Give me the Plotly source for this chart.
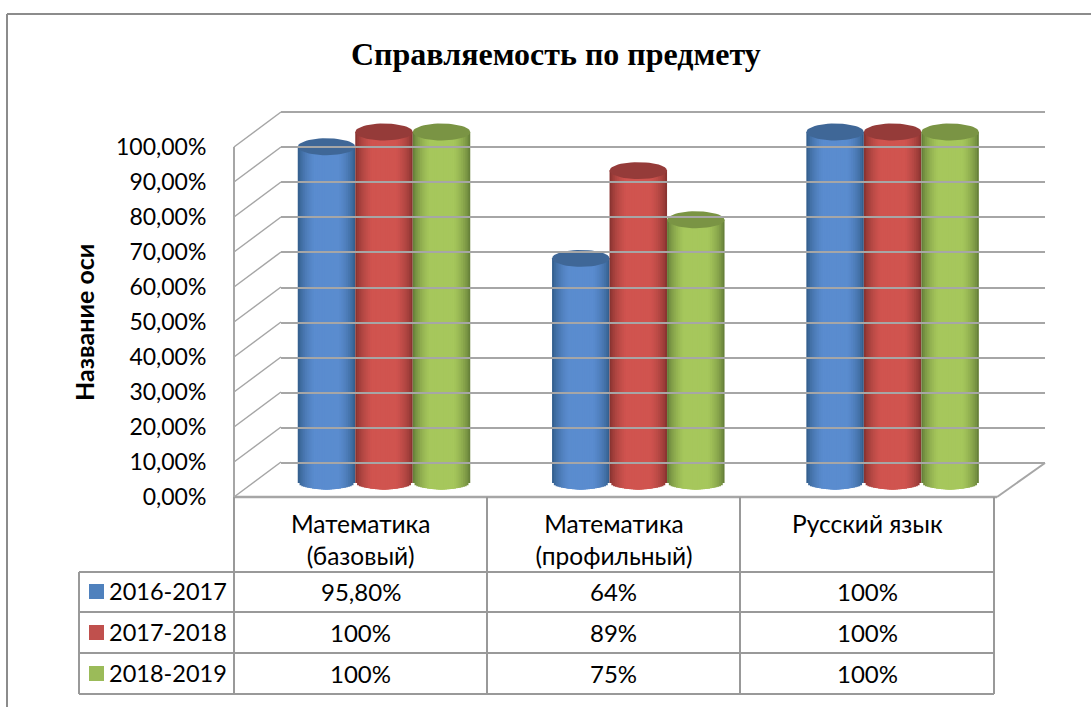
import math
import plotly.graph_objects as go

categories = ["Математика (базовый)", "Математика (профильный)", "Русский язык"]
category_ticks = ["Математика<br>(базовый)", "Математика<br>(профильный)", "Русский язык<br> "]
series_names = ["2016-2017", "2017-2018", "2018-2019"]
values_2016 = [95.8, 64, 100]
values_2017 = [100, 89, 100]
values_2018 = [100, 75, 100]
labels_2016 = ["95,80%", "64%", "100%"]
labels_2017 = ["100%", "89%", "100%"]
labels_2018 = ["100%", "75%", "100%"]
y_ticks = [0, 10, 20, 30, 40, 50, 60, 70, 80, 90, 100]
y_tick_labels = ["0,00%", "10,00%", "20,00%", "30,00%", "40,00%", "50,00%", "60,00%", "70,00%", "80,00%", "90,00%", "100,00%"]
title_text = "Справляемость по предмету"
axis_title = "Название оси"

W, H = 1091, 707
SANS = "Lato, Carlito, sans-serif"
GRAY = "#a6a6a6"
series = [values_2016, values_2017, values_2018]
table = [labels_2016, labels_2017, labels_2018]
# body colour, edge colour, cap colour
palette = [("#5a8ccf", "#35608f", "#3f6797"),
           ("#d0544f", "#8a3431", "#953b39"),
           ("#a6c75c", "#67813a", "#7a9444")]
key_colors = ["#4f81bd", "#c0504d", "#9bbb59"]

def mix(a, b, t):
    ca = [int(a[i:i + 2], 16) for i in (1, 3, 5)]
    cb = [int(b[i:i + 2], 16) for i in (1, 3, 5)]
    return "#%02x%02x%02x" % tuple(round(x + (y - x) * t) for x, y in zip(ca, cb))

def px(x):
    return x / W

def py(y):
    return 1 - y / H

fig = go.Figure()

# Geometry of the cylinders on full-page overlay axes
unit_y = 3.51          # px per percent
base_px = 483
group0_px, group_step = 384, 254.3
bar_w = 57.5 / group_step
cap_h = 8.5 / unit_y
foot_h = 6.5 / unit_y
LAYERS = 16
x_range = [(0 - group0_px) / group_step, (W - group0_px) / group_step]
y_range = [(base_px - H) / unit_y, base_px / unit_y]

for s, vals in enumerate(series):
    xa, ya = f"x{s + 2}", f"y{s + 2}"
    body, edge, cap = palette[s]
    centre_shift = (s - 1) * bar_w
    for k in range(LAYERS):
        frac = 1 - k / LAYERS
        half = bar_w / 2 * frac
        shade = math.sqrt(max(0.0, 1 - frac * frac))
        t = min(1.0, shade * 1.12) ** 1.6
        depth = foot_h * shade
        fig.add_trace(go.Bar(
            x=[0, 1, 2], y=[v + depth for v in vals], base=[-depth] * 3,
            width=[2 * half] * 3, offset=[centre_shift - half] * 3,
            marker=dict(color=mix(edge, body, t), line=dict(width=0)),
            xaxis=xa, yaxis=ya, showlegend=False, hoverinfo="skip"))
    for g, v in enumerate(vals):
        cx = g + centre_shift
        steps = [i * 2 * math.pi / 48 for i in range(49)]
        fig.add_trace(go.Scatter(
            x=[cx + bar_w / 2 * math.cos(a) for a in steps],
            y=[v + cap_h * math.sin(a) for a in steps],
            mode="lines", fill="toself", fillcolor=cap, line=dict(width=0, color=cap),
            xaxis=xa, yaxis=ya, showlegend=False, hoverinfo="skip"))

# Back-wall gridlines
fig.add_trace(go.Scatter(x=[0], y=[None], xaxis="x5", yaxis="y5", showlegend=False, hoverinfo="skip"))
# Front axis carrying tick labels
fig.add_trace(go.Scatter(x=categories, y=[None] * 3, xaxis="x", yaxis="y", showlegend=False, hoverinfo="skip"))

overlay = dict(domain=[0, 1], visible=False, fixedrange=True, automargin=False)
layout_axes = {}
for s in range(3):
    n = s + 2
    layout_axes[f"xaxis{n}"] = dict(overlay, range=x_range, anchor=f"y{n}", **({"overlaying": "x2"} if s else {}))
    layout_axes[f"yaxis{n}"] = dict(overlay, range=y_range, anchor=f"x{n}", **({"overlaying": "y2"} if s else {}))

layout_axes["xaxis5"] = dict(domain=[px(281), px(1045)], range=[0, 1], visible=False, anchor="y5", automargin=False)
layout_axes["yaxis5"] = dict(domain=[py(463 + 3.51), py(112 - 3.51)], range=[-1, 101], tickvals=y_ticks,
                             showticklabels=False, showgrid=True, gridcolor=GRAY, gridwidth=2, zeroline=False,
                             ticks="", anchor="x5", showline=False, automargin=False)

shapes = []
def line(x0, y0, x1, y1, width=2, color=GRAY):
    shapes.append(dict(type="line", xref="paper", yref="paper", x0=px(x0), y0=py(y0), x1=px(x1), y1=py(y1),
                       line=dict(color=color, width=width), layer="below"))

# frame
line(7, 14, W, 14, 2, "#8c8c8c")
line(7, 14, 7, H, 2, "#8c8c8c")
# side wall diagonals and floor
for t in y_ticks:
    y_front = 497 - t * 3.5
    line(234, y_front, 281, y_front - 35, 1.5)
line(234, 147, 234, 497, 2)
line(234, 497, 997, 497, 2.5)
line(997, 497, 1045, 463, 2)

# data table
col_x = [234, 487, 740, 994]
row_y = [572, 612, 653, 694]
for y in row_y:
    line(79, y, 994, y, 2, "#999999")
for x in col_x:
    line(x, 497, x, 694, 2, "#999999")
line(79, 572, 79, 694, 2, "#999999")

annotations = [
    dict(text=f"<b>{title_text}</b>", x=px(556), y=py(54), xref="paper", yref="paper", showarrow=False,
         font=dict(family="Liberation Serif", size=32, color="black"), xanchor="center", yanchor="middle"),
    dict(text=f"<b>{axis_title}</b>", x=px(84), y=py(323), xref="paper", yref="paper", showarrow=False, textangle=-90,
         font=dict(family=SANS, size=25, color="black"), xanchor="center", yanchor="middle"),
]
row_centres = [592, 633, 674]
col_centres = [360.5, 613, 867]
for r, name in enumerate(series_names):
    yc = row_centres[r]
    annotations.append(dict(text=name, x=px(107), y=py(yc - 1), xref="paper", yref="paper", showarrow=False,
                            font=dict(family=SANS, size=23.5, color="black"), xanchor="left", yanchor="middle"))
    shapes.append(dict(type="rect", xref="paper", yref="paper", x0=px(89), x1=px(104), y0=py(yc - 8), y1=py(yc + 7),
                       fillcolor=key_colors[r], line=dict(width=0)))
    for c, label in enumerate(table[r]):
        annotations.append(dict(text=label, x=px(col_centres[c]), y=py(yc - 1), xref="paper", yref="paper", showarrow=False,
                                font=dict(family=SANS, size=24, color="black"), xanchor="center", yanchor="middle"))

fig.update_layout(
    width=W, height=H, margin=dict(l=0, r=0, t=0, b=0, autoexpand=False), autosize=False,
    paper_bgcolor="white", plot_bgcolor="rgba(0,0,0,0)", barmode="overlay", showlegend=False,
    shapes=shapes, annotations=annotations,
    xaxis=dict(domain=[px(234), px(994)], type="category", range=[-0.5, 2.5], tickmode="array", tickvals=categories,
               ticktext=category_ticks, tickfont=dict(family=SANS, size=24.5, color="black"), showgrid=False,
               zeroline=False, ticks="outside", ticklen=6, tickcolor="rgba(0,0,0,0)", showline=False, anchor="y",
               tickangle=0, automargin=False),
    yaxis=dict(domain=[py(497), py(147)], range=[0, 100], tickmode="array", tickvals=y_ticks, ticktext=y_tick_labels,
               tickfont=dict(family=SANS, size=23, color="black"), showgrid=False, zeroline=False,
               ticks="outside", ticklen=22, tickcolor="rgba(0,0,0,0)", showline=False, anchor="x", automargin=False),
    **layout_axes,
)
fig.write_html("out.html", config={"displayModeBar": False},
               post_script="document.body.style.margin='0';document.body.style.overflow='hidden';")
